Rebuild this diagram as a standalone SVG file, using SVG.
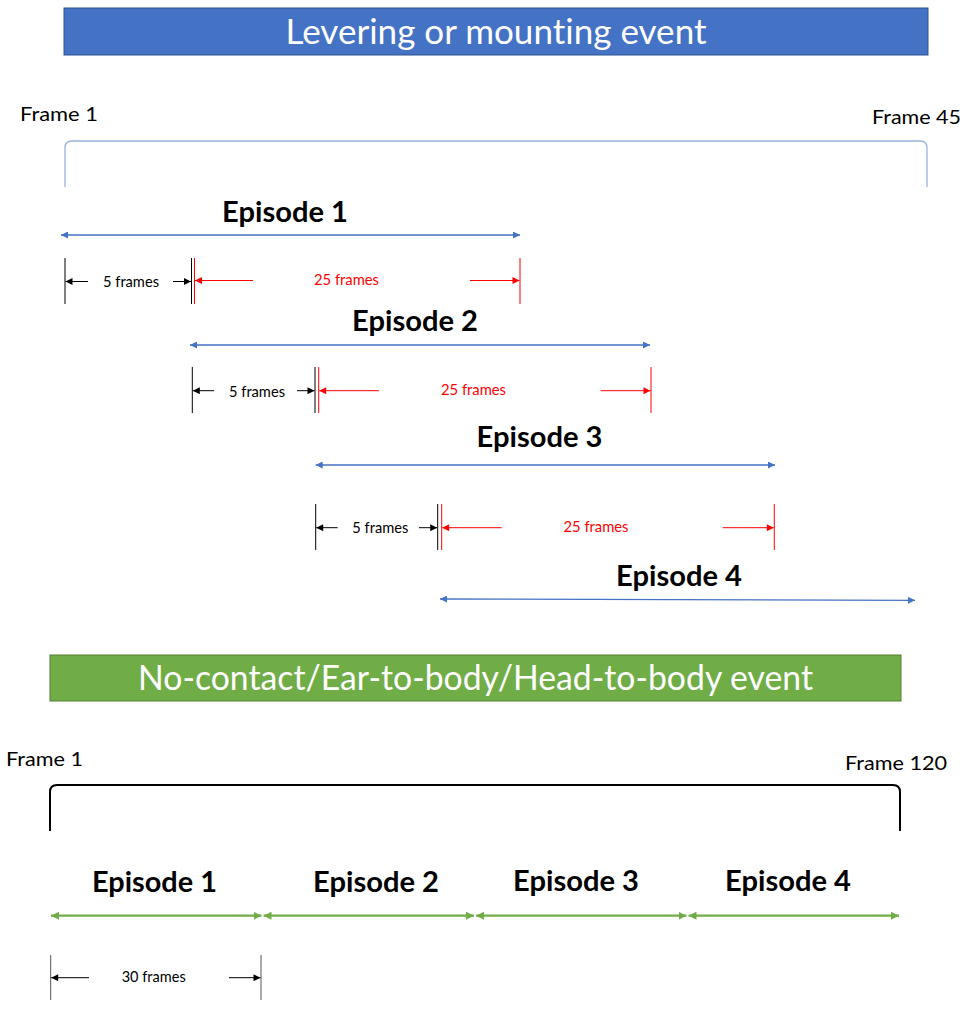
<svg xmlns="http://www.w3.org/2000/svg" width="980" height="1024" viewBox="0 0 980 1024">
<style>
text{font-family:Lato,"Open Sans","Liberation Sans",sans-serif;font-variant-ligatures:none;font-feature-settings:"liga" 0,"clig" 0,"dlig" 0;}
.ban{fill:#fff;font-size:34px;text-anchor:middle;}
.frm{fill:#000;font-size:20px;}
.ep{fill:#000;font-size:28px;font-weight:bold;text-anchor:middle;}
.sm{fill:#000;font-size:15px;text-anchor:middle;}
.smr{fill:#FF0000;font-size:15px;text-anchor:middle;}
.bl{stroke:#4472C4;stroke-width:1.3;fill:none;}
.gr{stroke:#70AD47;stroke-width:2.2;fill:none;}
.k{stroke:#000;stroke-width:1;fill:none;}
.kg{stroke:#555;stroke-width:1;fill:none;}
.r{stroke:#FF0000;stroke-width:1;fill:none;}
</style>
<defs>
<marker id="mb" viewBox="0 0 10 10" refX="10" refY="5" markerWidth="9" markerHeight="7" markerUnits="userSpaceOnUse" orient="auto-start-reverse"><path d="M0,0 L10,5 L0,10 z" fill="#4472C4"/></marker>
<marker id="mg" viewBox="0 0 10 10" refX="10" refY="5" markerWidth="8" markerHeight="8" markerUnits="userSpaceOnUse" orient="auto-start-reverse"><path d="M0,0 L10,5 L0,10 z" fill="#70AD47"/></marker>
<marker id="mk" viewBox="0 0 10 10" refX="10" refY="5" markerWidth="8" markerHeight="7" markerUnits="userSpaceOnUse" orient="auto-start-reverse"><path d="M0,0 L10,5 L0,10 z" fill="#000"/></marker>
<marker id="mr" viewBox="0 0 10 10" refX="10" refY="5" markerWidth="8" markerHeight="7" markerUnits="userSpaceOnUse" orient="auto-start-reverse"><path d="M0,0 L10,5 L0,10 z" fill="#FF0000"/></marker>
</defs>
<rect width="980" height="1024" fill="#fff"/>

<g id="banner-top">
<rect x="64" y="8" width="864" height="47" fill="#4472C4" stroke="#2F528F" stroke-width="1"/>
<text class="ban" x="496" y="43.5" textLength="421" lengthAdjust="spacingAndGlyphs">Levering or mounting event</text>
</g>

<g id="frames-top">
<text class="frm" x="20" y="121" textLength="78" lengthAdjust="spacingAndGlyphs">Frame 1</text>
<text class="frm" x="872" y="123.5" textLength="89" lengthAdjust="spacingAndGlyphs">Frame 45</text>
<path d="M65,187 V148 Q65,141 72,141 H920 Q927,141 927,148 V187" stroke="#9AB3E0" stroke-width="1.3" fill="none"/>
</g>

<g id="episode1-top">
<text class="ep" x="285" y="222" textLength="126" lengthAdjust="spacingAndGlyphs">Episode 1</text>
</g>
<g id="episode2-top">
<text class="ep" x="415" y="331" textLength="126" lengthAdjust="spacingAndGlyphs">Episode 2</text>
</g>
<g id="episode3-top">
<text class="ep" x="539.5" y="447" textLength="126" lengthAdjust="spacingAndGlyphs">Episode 3</text>
</g>
<g id="episode4-top">
<text class="ep" x="679" y="585.5" textLength="126" lengthAdjust="spacingAndGlyphs">Episode 4</text>
</g>

<g id="dim-row1">
<path class="k" d="M65,258 V304 M191.5,258 V304"/>
<path class="r" d="M194.5,258 V304 M520,258 V304"/>
<text class="sm" x="131" y="286.5" textLength="56" lengthAdjust="spacingAndGlyphs">5 frames</text>
<text class="smr" x="346.5" y="285" textLength="65" lengthAdjust="spacingAndGlyphs">25 frames</text>
</g>
<g id="dim-row2">
<path class="k" d="M192.3,367 V413 M315,367 V413"/>
<path class="r" d="M318.7,367 V413 M651,367 V413"/>
<text class="sm" x="257" y="396.5" textLength="56" lengthAdjust="spacingAndGlyphs">5 frames</text>
<text class="smr" x="473.5" y="395" textLength="65" lengthAdjust="spacingAndGlyphs">25 frames</text>
</g>
<g id="dim-row3">
<path class="k" d="M315.7,504 V550 M437.7,504 V550"/>
<path class="r" d="M441.7,504 V550 M774.3,504 V550"/>
<text class="sm" x="380.3" y="533" textLength="56" lengthAdjust="spacingAndGlyphs">5 frames</text>
<text class="smr" x="596" y="531.7" textLength="65" lengthAdjust="spacingAndGlyphs">25 frames</text>
</g>

<g id="banner-bottom">
<rect x="50" y="655" width="851" height="46" fill="#70AD47" stroke="#507E32" stroke-width="1"/>
<text class="ban" x="475.5" y="690" textLength="675" lengthAdjust="spacingAndGlyphs">No-contact/Ear-to-body/Head-to-body event</text>
</g>

<g id="frames-bottom">
<text class="frm" x="6" y="766" textLength="77" lengthAdjust="spacingAndGlyphs">Frame 1</text>
<text class="frm" x="845" y="769.5" textLength="102" lengthAdjust="spacingAndGlyphs">Frame 120</text>
<path d="M50,831 V792 Q50,785 57,785 H893 Q900,785 900,792 V831" stroke="#000" stroke-width="2" fill="none"/>
</g>

<g id="episode1-bottom"><text class="ep" x="154.5" y="891.5" textLength="125" lengthAdjust="spacingAndGlyphs">Episode 1</text></g>
<g id="episode2-bottom"><text class="ep" x="376" y="892" textLength="126" lengthAdjust="spacingAndGlyphs">Episode 2</text></g>
<g id="episode3-bottom"><text class="ep" x="576" y="890.5" textLength="126" lengthAdjust="spacingAndGlyphs">Episode 3</text></g>
<g id="episode4-bottom"><text class="ep" x="788" y="890.5" textLength="126" lengthAdjust="spacingAndGlyphs">Episode 4</text></g>

<g id="dim-bottom">
<path class="kg" d="M50.7,955 V1000 M261,955 V1000"/>
<text class="sm" x="153.7" y="982.3" textLength="64" lengthAdjust="spacingAndGlyphs">30 frames</text>
</g>

<g id="connectors">
<line class="bl" x1="61" y1="235" x2="520" y2="235" marker-start="url(#mb)" marker-end="url(#mb)"/>
<line class="bl" x1="190" y1="345" x2="650" y2="345" marker-start="url(#mb)" marker-end="url(#mb)"/>
<line class="bl" x1="315.7" y1="465" x2="775" y2="465" marker-start="url(#mb)" marker-end="url(#mb)"/>
<line class="bl" x1="440" y1="599" x2="915" y2="600.3" marker-start="url(#mb)" marker-end="url(#mb)"/>

<line class="k" x1="88" y1="281.5" x2="65.5" y2="281.5" marker-end="url(#mk)"/>
<line class="k" x1="173" y1="281.5" x2="191" y2="281.5" marker-end="url(#mk)"/>
<line class="r" x1="253" y1="280.5" x2="195" y2="280.5" marker-end="url(#mr)"/>
<line class="r" x1="470" y1="280.5" x2="519.5" y2="280.5" marker-end="url(#mr)"/>

<line class="k" x1="214" y1="390.7" x2="192.8" y2="390.7" marker-end="url(#mk)"/>
<line class="k" x1="297" y1="390.7" x2="314.5" y2="390.7" marker-end="url(#mk)"/>
<line class="r" x1="379" y1="390.7" x2="319.2" y2="390.7" marker-end="url(#mr)"/>
<line class="r" x1="600.7" y1="390.7" x2="650.5" y2="390.7" marker-end="url(#mr)"/>

<line class="k" x1="337.7" y1="527.7" x2="316.2" y2="527.7" marker-end="url(#mk)"/>
<line class="k" x1="419" y1="527.7" x2="437.2" y2="527.7" marker-end="url(#mk)"/>
<line class="r" x1="501.7" y1="527.7" x2="442.2" y2="527.7" marker-end="url(#mr)"/>
<line class="r" x1="722.7" y1="527.7" x2="773.8" y2="527.7" marker-end="url(#mr)"/>

<line class="gr" x1="51" y1="915.7" x2="261.5" y2="915.7" marker-start="url(#mg)" marker-end="url(#mg)"/>
<line class="gr" x1="263.5" y1="915.7" x2="474" y2="915.7" marker-start="url(#mg)" marker-end="url(#mg)"/>
<line class="gr" x1="476" y1="915.7" x2="686.5" y2="915.7" marker-start="url(#mg)" marker-end="url(#mg)"/>
<line class="gr" x1="688.5" y1="915.7" x2="899" y2="915.7" marker-start="url(#mg)" marker-end="url(#mg)"/>

<line class="k" x1="89" y1="977.7" x2="51.2" y2="977.7" marker-end="url(#mk)"/>
<line class="k" x1="229" y1="977.7" x2="260.5" y2="977.7" marker-end="url(#mk)"/>
</g>
</svg>
